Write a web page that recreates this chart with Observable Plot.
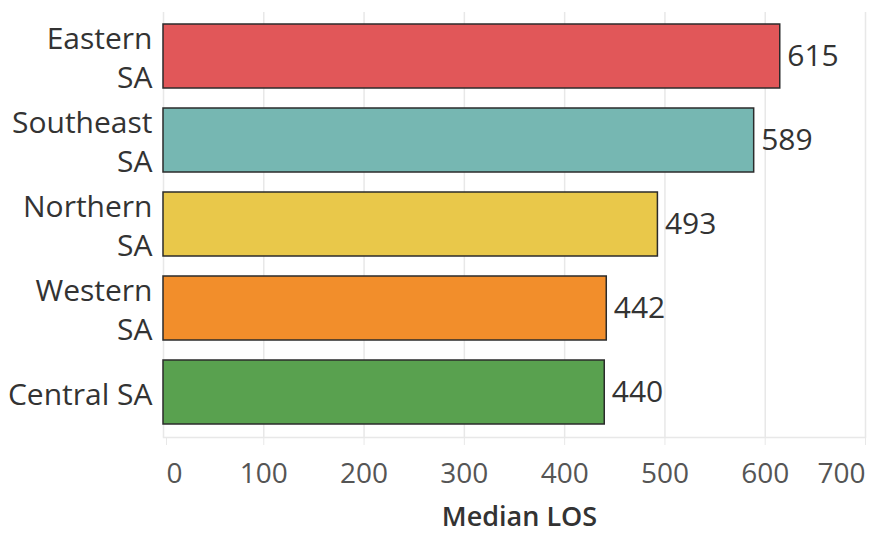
<!DOCTYPE html>
<html>
<head>
<meta charset="utf-8">
<script src="https://cdn.jsdelivr.net/npm/d3@7"></script>
<script src="https://cdn.jsdelivr.net/npm/@observablehq/plot@0.6"></script>
<style>
  html, body { margin: 0; padding: 0; background: #fff; }
</style>
</head>
<body>
<div id="chart"></div>
<script>
const regions = ["Eastern SA", "Southeast SA", "Northern SA", "Western SA", "Central SA"];
const regionLabels = ["Eastern\nSA", "Southeast\nSA", "Northern\nSA", "Western\nSA", "Central SA"];
const medianLOS = [615, 589, 493, 442, 440];
const barColors = ["#e15759", "#76b7b2", "#e9c84a", "#f28e2b", "#59a14f"];
const xTicks = [0, 100, 200, 300, 400, 500, 600, 700];
const xTitle = "Median LOS";

const data = regions.map((r, i) => ({region: r, value: medianLOS[i]}));
const labelOf = new Map(regions.map((r, i) => [r, regionLabels[i]]));

const chart = Plot.plot({
  width: 875,
  height: 535,
  marginLeft: 163,
  marginRight: 10,
  marginTop: 12,
  marginBottom: 98,
  style: {fontFamily: "'Open Sans', sans-serif", fontSize: "28px", color: "#333", background: "#fff"},
  x: {domain: [0, 700]},
  y: {domain: regions, paddingInner: 0.235, paddingOuter: 0.1176},
  color: {domain: regions, range: barColors},
  marks: [
    Plot.gridX(xTicks, {stroke: "#e8e8e8", strokeOpacity: 1, strokeWidth: 1.5}),
    Plot.frame({anchor: "bottom", stroke: "#e8e8e8", strokeWidth: 1.5}),
    Plot.barX(data, {x: "value", y: "region", fill: "region", stroke: "#2b2b2b", strokeWidth: 1.5}),
    Plot.text(data, {x: "value", y: "region", text: d => String(d.value), textAnchor: "start", dx: 7, fill: "#333", fontSize: 30}),
    Plot.axisY({tickSize: 0, tickPadding: 11, tickFormat: d => labelOf.get(d), lineHeight: 1.3, label: null, fill: "#333", fontSize: 30}),
    Plot.axisX(xTicks.slice(1, -1), {tickSize: 8, tickPadding: 18, stroke: "#e8e8e8", fill: "#555", label: null, fontSize: 28}),
    Plot.axisX([0], {tickSize: 8, tickPadding: 18, stroke: "#e8e8e8", fill: "#555", label: null, textAnchor: "start", dx: 3, fontSize: 28}),
    Plot.axisX([700], {tickSize: 8, tickPadding: 18, stroke: "#e8e8e8", fill: "#555", label: null, textAnchor: "end", dx: 0, fontSize: 28}),
    Plot.text([xTitle], {frameAnchor: "bottom", dy: 88, dx: 5, fontWeight: 600, fontSize: 27, fill: "#333"})
  ]
});
document.getElementById("chart").append(chart);
</script>
</body>
</html>
